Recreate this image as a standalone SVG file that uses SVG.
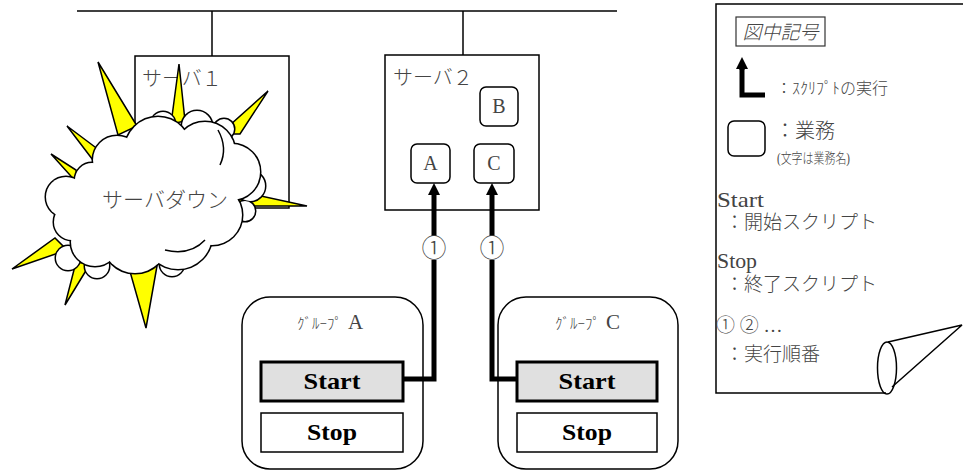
<svg xmlns="http://www.w3.org/2000/svg" width="963" height="471" viewBox="0 0 963 471">
  <defs>
    <marker id="head" markerUnits="userSpaceOnUse" markerWidth="12" markerHeight="12" refX="3" refY="6" orient="auto">
      <path d="M0,0 L12,6 L0,12 z" fill="#000"/>
    </marker>
  </defs>
  <style>
    .ln { fill: none; stroke: #000; stroke-width: 1.5; }
    .box { fill: #fff; stroke: #000; stroke-width: 1.5; }
    .job { fill: #fff; stroke: #000; stroke-width: 1.5; }
    .start { fill: #e0e0e0; stroke: #000; stroke-width: 3; }
    .stop { fill: #fff; stroke: #000; stroke-width: 1.5; }
    .flow { fill: none; stroke: #000; stroke-width: 5; }
    .spike { fill: #ffff00; stroke: #000; stroke-width: 1.5; stroke-linejoin: miter; }
    .edge circle { fill: #fff; stroke: #000; stroke-width: 3; }
    .body circle { fill: #fff; stroke: none; }
    .jp { font-family: "Liberation Serif", "Noto Sans CJK JP", serif; font-weight: 300; fill: #444; }
    .bold { font-family: "Liberation Serif", "Noto Sans CJK JP", serif; font-weight: bold; fill: #000; font-size: 23px; }
  </style>

  <!-- network bus -->
  <g id="bus">
    <line class="ln" x1="77" y1="11" x2="617" y2="11"/>
    <line class="ln" x1="212" y1="11" x2="212" y2="56"/>
    <line class="ln" x1="463" y1="11" x2="463" y2="55"/>
  </g>

  <!-- server 1 -->
  <g id="server1">
    <rect class="box" x="135" y="56" width="154" height="152"/>
    <text class="jp" x="142" y="86" font-size="20">サーバ１</text>
  </g>

  <!-- server down burst -->
  <g id="serverdown">
    <polygon class="spike" points="98,62 118,135 137,126"/>
    <polygon class="spike" points="179,64 171,124 185,121"/>
    <polygon class="spike" points="268,91 220,134 240,134"/>
    <polygon class="spike" points="307,206 238,191 238,206"/>
    <polygon class="spike" points="146,328 129,268 157,266"/>
    <polygon class="spike" points="65,305 76,262 90,264"/>
    <polygon class="spike" points="12,269 55,238 67,250"/>
    <polygon class="spike" points="51,154 76,170 78,184"/>
    <polygon class="spike" points="67,126 99,150 99,168"/>
    <!-- cloud behind -->
    <g class="edge">
      <circle cx="163" cy="124" r="12"/><circle cx="197" cy="126" r="15"/><circle cx="224" cy="129" r="10"/>
      <circle cx="250" cy="186" r="15"/><circle cx="245" cy="211" r="10"/>
      <circle cx="68" cy="258" r="12"/><circle cx="97" cy="266" r="12"/><circle cx="172" cy="264" r="12"/>
    </g>
    <g class="body">
      <circle cx="163" cy="124" r="12"/><circle cx="197" cy="126" r="15"/><circle cx="224" cy="129" r="10"/>
      <circle cx="250" cy="186" r="15"/><circle cx="245" cy="211" r="10"/>
      <circle cx="68" cy="258" r="12"/><circle cx="97" cy="266" r="12"/><circle cx="172" cy="264" r="12"/>
    </g>
    <!-- cloud front -->
    <g class="edge">
      <circle cx="158" cy="150" r="33"/><circle cx="205" cy="152" r="30"/><circle cx="232" cy="172" r="28"/>
      <circle cx="212" cy="215" r="30"/><circle cx="178" cy="235" r="34"/><circle cx="135" cy="240" r="33"/>
      <circle cx="95" cy="242" r="24"/><circle cx="72" cy="222" r="18"/><circle cx="66" cy="197" r="20"/>
      <circle cx="92" cy="180" r="17"/><circle cx="117" cy="160" r="24"/><circle cx="155" cy="195" r="55"/>
      <circle cx="95" cy="205" r="22"/>
    </g>
    <g class="body">
      <circle cx="158" cy="150" r="33"/><circle cx="205" cy="152" r="30"/><circle cx="232" cy="172" r="28"/>
      <circle cx="212" cy="215" r="30"/><circle cx="178" cy="235" r="34"/><circle cx="135" cy="240" r="33"/>
      <circle cx="95" cy="242" r="24"/><circle cx="72" cy="222" r="18"/><circle cx="66" cy="197" r="20"/>
      <circle cx="92" cy="180" r="17"/><circle cx="117" cy="160" r="24"/><circle cx="155" cy="195" r="55"/>
      <circle cx="95" cy="205" r="22"/>
    </g>
    <path class="ln" d="M218,130 Q228,148 220,165"/>
    <path class="ln" d="M165,250 Q190,256 205,240"/>
    <text class="jp" x="165" y="207" font-size="21" text-anchor="middle">サーバダウン</text>
  </g>

  <!-- server 2 -->
  <g id="server2">
    <rect class="box" x="385" y="55" width="154" height="155"/>
    <text class="jp" x="393" y="85" font-size="20">サーバ２</text>
  </g>
  <g id="jobB">
    <rect class="job" x="480" y="87" width="38" height="39" rx="6"/>
    <text class="jp" x="499" y="113" font-size="20" text-anchor="middle" fill="#000">B</text>
  </g>
  <g id="jobA">
    <rect class="job" x="411" y="144" width="39" height="39" rx="6"/>
    <text class="jp" x="430.5" y="170" font-size="20" text-anchor="middle" fill="#000">A</text>
  </g>
  <g id="jobC">
    <rect class="job" x="474" y="144" width="40" height="39" rx="6"/>
    <text class="jp" x="494" y="170" font-size="20" text-anchor="middle" fill="#000">C</text>
  </g>

  <!-- group A -->
  <g id="groupA">
    <rect class="box" x="242" y="297" width="181" height="172" rx="28"/>
    <text class="jp" x="297" y="329" font-size="15">ｸﾞﾙｰﾌﾟ<tspan font-size="21" dx="6">A</tspan></text>
    <rect class="start" x="261" y="362" width="142" height="39"/>
    <text class="bold" x="332" y="389" text-anchor="middle" textLength="57" lengthAdjust="spacingAndGlyphs">Start</text>
    <rect class="stop" x="261" y="413" width="142" height="39"/>
    <text class="bold" x="332" y="440" text-anchor="middle" textLength="50" lengthAdjust="spacingAndGlyphs">Stop</text>
  </g>

  <!-- group C -->
  <g id="groupC">
    <rect class="box" x="498" y="297" width="180" height="172" rx="28"/>
    <text class="jp" x="555" y="329" font-size="15">ｸﾞﾙｰﾌﾟ<tspan font-size="21" dx="6">C</tspan></text>
    <rect class="start" x="517" y="362" width="140" height="39"/>
    <text class="bold" x="587" y="389" text-anchor="middle" textLength="57" lengthAdjust="spacingAndGlyphs">Start</text>
    <rect class="stop" x="517" y="413" width="140" height="39"/>
    <text class="bold" x="587" y="440" text-anchor="middle" textLength="50" lengthAdjust="spacingAndGlyphs">Stop</text>
  </g>

  <!-- script execution connectors -->
  <g id="connectors">
    <path class="flow" d="M403,379 H434 V260"/>
    <path class="flow" d="M434,236 V192" marker-end="url(#head)"/>
    <text class="jp" x="434" y="257" font-size="25" text-anchor="middle">①</text>
    <path class="flow" d="M517,379 H492 V260"/>
    <path class="flow" d="M492,236 V192" marker-end="url(#head)"/>
    <text class="jp" x="492" y="257" font-size="25" text-anchor="middle">①</text>
  </g>

  <!-- legend sheet -->
  <g id="legend">
    <path class="ln" d="M963,4 H716 V393 H886" stroke-width="1.2"/>
    <ellipse class="ln" cx="887" cy="368" rx="9.5" ry="26" stroke-width="1.2"/>
    <path class="ln" d="M888,342 L962,325 L892,387" stroke-width="1.2"/>
    <rect x="736" y="17" width="89" height="29" fill="#fff" stroke="#333" stroke-width="1.2"/>
    <text class="jp" x="780.5" y="39" font-size="19" font-style="italic" text-anchor="middle">図中記号</text>
    <path class="flow" d="M742,68 V95 H765" stroke-linejoin="miter"/>
    <path class="flow" d="M742,70 V66" marker-end="url(#head)"/>
    <text class="jp" x="776" y="94" font-size="16">：ｽｸﾘﾌﾟﾄの実行</text>
    <rect class="job" x="728" y="121" width="37" height="35" rx="6" stroke-width="1.2"/>
    <text class="jp" x="775" y="138" font-size="20">：業務</text>
    <text class="jp" x="777" y="163" font-size="14" textLength="73" lengthAdjust="spacingAndGlyphs">(文字は業務名)</text>
    <text class="jp" x="717" y="207" font-size="21" textLength="47" lengthAdjust="spacingAndGlyphs">Start</text>
    <text class="jp" x="725" y="229" font-size="19">：開始スクリプト</text>
    <text class="jp" x="717" y="268" font-size="21" textLength="40" lengthAdjust="spacingAndGlyphs">Stop</text>
    <text class="jp" x="725" y="291" font-size="19">：終了スクリプト</text>
    <text class="jp" x="716" y="332" font-size="19">① ② …</text>
    <text class="jp" x="725" y="361" font-size="19">：実行順番</text>
  </g>
</svg>
